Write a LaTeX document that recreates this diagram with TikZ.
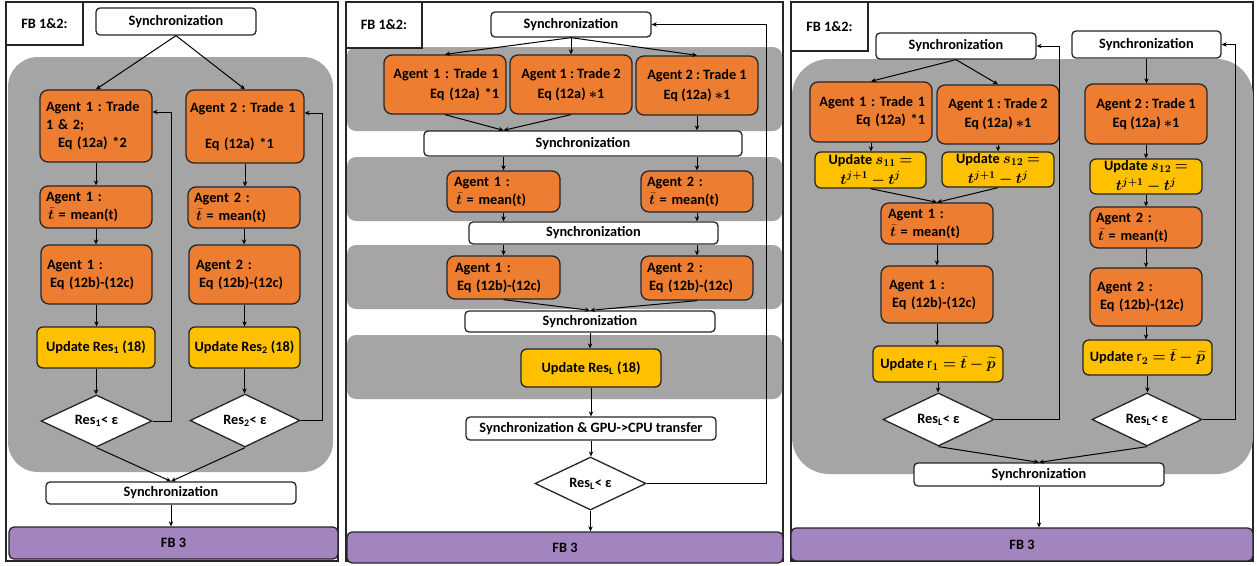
\RequirePackage{fix-cm}
\documentclass[tikz,border=0pt]{standalone}
\usepackage{fontspec}
\setmainfont{Carlito}
\usepackage{amsmath,bm}
\usetikzlibrary{arrows.meta,shapes.geometric}
\definecolor{boxorange}{RGB}{237,125,49}
\definecolor{boxyellow}{RGB}{255,192,0}
\definecolor{zonegray}{RGB}{165,165,165}
\definecolor{fbpurple}{RGB}{162,132,190}
% larger math for the update formulas
\newcommand{\fml}[1]{{\fontsize{15}{18}\selectfont$\bm{#1}$}}

\begin{document}
\frenchspacing
\begin{tikzpicture}[x=1pt,y=-1pt,
  base/.style={draw=black!85, line width=1.3pt, inner sep=0pt,
    font=\fontsize{14.3}{18}\selectfont\bfseries},
  wh/.style n args={2}{minimum width=#1pt, minimum height=#2pt},
  sync/.style={base, fill=white, rounded corners=4pt},
  agent/.style={base, fill=boxorange, rounded corners=8pt},
  upd/.style={base, fill=boxyellow, rounded corners=6pt},
  cond/.style={base, fill=white, diamond, shape aspect=2},
  fbthree/.style={base, fill=fbpurple, rounded corners=5pt},
  tag/.style={base, fill=white},
  lft/.style={align=left, text width=#1pt},
  rgt/.style={align=right, text width=#1pt},
  ctr/.style={align=center},
  link/.style={line width=1pt, -{Stealth[length=5pt,width=4.5pt]}},
  zone/.style={fill=zonegray, draw=none},
  frame/.style={draw=black!85, line width=1.3pt},
]
\useasboundingbox (0,0) rectangle (1257,565);
\fill[white] (0,0) rectangle (1257,565);

% ---------- panel frames and shaded zones ----------
\draw[frame] (6,2) rectangle (338,561);
\draw[frame] (346,2) rectangle (783,561);
\draw[frame] (791,2) rectangle (1253,561);

\fill[zone, rounded corners=30pt] (8,57) rectangle (333,472);
\fill[zone, rounded corners=9pt] (347,47) rectangle (782,131);
\fill[zone, rounded corners=9pt] (347,157) rectangle (782,221);
\fill[zone, rounded corners=9pt] (347,245) rectangle (782,309);
\fill[zone, rounded corners=9pt] (347,335) rectangle (782,399);
\fill[zone, rounded corners=37pt] (792,59) rectangle (1253,474);

% ---------- panel 1 ----------
\node[tag, wh={77}{43}] (fb1) at (44.5,23.5) {FB 1\&2:};
\node[sync, wh={160}{27}] (s1a) at (176,21.5) {Synchronization};
\node[agent, wh={112}{72}, lft=100] (a1t) at (96,126)
  {Agent 1 : Trade\\1 \& 2;\\\hspace*{12pt}Eq (12a) *2};
\node[agent, wh={118}{73}, lft=110] (a2t) at (245,126.5)
  {Agent 2 : Trade 1\\[18pt]\hspace*{15pt}Eq (12a) *1};
\node[agent, wh={112}{42}, lft=100] (m1) at (96,207)
  {Agent 1 :\\\hspace*{2pt}$\bm{\bar{t}}$ = mean(t)};
\node[agent, wh={112}{41}, lft=100] (m2) at (244,207.5)
  {Agent 2 :\\\hspace*{2pt}$\bm{\bar{t}}$ = mean(t)};
\node[agent, wh={111}{59}, lft=99] (e1) at (96.5,274.5)
  {Agent 1 :\\\hspace*{3pt}Eq (12b)-(12c)};
\node[agent, wh={111}{59}, lft=97] (e2) at (244.5,274.5)
  {Agent 2 :\\\hspace*{3pt}Eq (12b)-(12c)};
\node[upd, wh={118}{41}] (u1) at (96,347.5) {Update Res\textsubscript{1} (18)};
\node[upd, wh={111}{41}] (u2) at (244.5,347.5) {Update Res\textsubscript{2} (18)};
\node[cond, wh={111}{52}] (d1) at (96.5,421) {Res\textsubscript{1}< ε};
\node[cond, wh={110}{53}] (d2) at (245,420.5) {Res\textsubscript{2}< ε};
\node[sync, wh={250}{22}] (s1b) at (171,493) {Synchronization};
\node[fbthree, wh={329}{32}] (fb3a) at (173.5,543) {FB 3};

\draw[link] (s1a.south) -- (a1t.north);
\draw[link] (s1a.south) -- (a2t.north);
\draw[link] (a1t.south) -- (a1t.south |- m1.north);
\draw[link] (m1.south) -- (m1.south |- e1.north);
\draw[link] (e1.south) -- (e1.south |- u1.north);
\draw[link] (u1.south) -- (u1.south |- d1.north);
\draw[link] (a2t.south) -- (a2t.south |- m2.north);
\draw[link] (m2.south) -- (m2.south |- e2.north);
\draw[link] (e2.south) -- (e2.south |- u2.north);
\draw[link] (u2.south) -- (u2.south |- d2.north);
\draw[link] (d1.east) -- ++(19,0) |- ([yshift=14pt]a1t.east);
\draw[link] (d2.east) -- ++(22,0) |- ([yshift=13.5pt]a2t.east);
\draw[link] (d1.south) -- (s1b.north);
\draw[link] (d2.south) -- (s1b.north);
\draw[link] (s1b.south) -- (s1b.south |- fb3a.north);

% ---------- panel 2 ----------
\node[tag, wh={76}{46}] (fb2) at (384,25) {FB 1\&2:};
\node[sync, wh={160}{25}] (s2a) at (571,24.5) {Synchronization};
\node[agent, wh={122}{59}, rgt=108] (t21) at (445,84.5)
  {Agent 1 : Trade 1\\[2pt]Eq (12a) *1};
\node[agent, wh={122}{59}, ctr] (t22) at (571,84.5)
  {Agent 1 : Trade 2\\[2pt]Eq (12a) $\bm{\ast}$1};
\node[agent, wh={122}{59}, ctr] (t23) at (697,85.5)
  {Agent 2 : Trade 1\\[2pt]Eq (12a) $\bm{\ast}$1};
\node[sync, wh={318}{25}] (s2b) at (583,143.5) {Synchronization};
\node[agent, wh={113}{41}, lft=99] (m21) at (503.5,191.5)
  {Agent 1 :\\\hspace*{2pt}$\bm{\bar{t}}$ = mean(t)};
\node[agent, wh={112}{41}, lft=100] (m22) at (697,191.5)
  {Agent 2 :\\\hspace*{2pt}$\bm{\bar{t}}$ = mean(t)};
\node[sync, wh={249}{22}] (s2c) at (593.5,233) {Synchronization};
\node[agent, wh={113}{43}, lft=97] (e21) at (503.5,277.5)
  {Agent 1 :\\\hspace*{2pt}Eq (12b)-(12c)};
\node[agent, wh={112}{44}, lft=100] (e22) at (697,278)
  {Agent 2 :\\\hspace*{2pt}Eq (12b)-(12c)};
\node[sync, wh={250}{21}] (s2d) at (590,321.5) {Synchronization};
\node[upd, wh={140}{38}] (u2L) at (591,368) {Update Res\textsubscript{L} (18)};
\node[sync, wh={250}{23}] (s2e) at (591,428.5) {Synchronization \& GPU->CPU transfer};
\node[cond, wh={111}{53}] (d2L) at (590.5,483.5) {Res\textsubscript{L}< ε};
\node[fbthree, wh={436}{31}] (fb3b) at (565,547.5) {FB 3};

\draw[link] (s2a.south) -- (t21.north);
\draw[link] (s2a.south) -- (t22.north);
\draw[link] (s2a.south) -- (t23.north);
\coordinate (j21) at (m21 |- s2b.north);
\draw[link] (t21.south) -- (j21);
\draw[link] (t22.south) -- (j21);
\draw[link] (t23.south) -- (t23.south |- s2b.north);
\draw[link] (m21 |- s2b.south) -- (m21.north);
\draw[link] (m22 |- s2b.south) -- (m22.north);
\draw[link] (m21.south) -- (m21 |- s2c.north);
\draw[link] (m22.south) -- (m22 |- s2c.north);
\draw[link] (e21 |- s2c.south) -- (e21.north);
\draw[link] (e22 |- s2c.south) -- (e22.north);
\draw[link] (e21.south) -- (s2d.north);
\draw[link] (e22.south) -- (s2d.north);
\draw[link] (s2d.south) -- (s2d.south |- u2L.north);
\draw[link] (u2L.south) -- (u2L.south |- s2e.north);
\draw[link] (s2e.south) -- (s2e.south |- d2L.north);
\draw[link] (d2L.south) -- (d2L.south |- fb3b.north);
\draw[link] (d2L.east) -- ++(120,0) |- (s2a.east);

% ---------- panel 3 ----------
\node[tag, wh={77}{49}] (fb3t) at (829.5,26.5) {FB 1\&2:};
\node[sync, wh={160}{26}] (s3L) at (956,46) {Synchronization};
\node[sync, wh={149}{27}] (s3R) at (1146.5,44.5) {Synchronization};
\node[agent, wh={122}{60}, rgt=108] (t31) at (871,112)
  {Agent 1 : Trade 1\\Eq (12a) *1};
\node[agent, wh={122}{59}, ctr] (t32) at (998,114.5)
  {Agent 1 : Trade 2\\[1pt]Eq (12a) $\bm{\ast}$1};
\node[agent, wh={122}{60}, ctr] (t33) at (1146,114)
  {Agent 2 : Trade 1\\[1pt]Eq (12a) $\bm{\ast}$1};
\node[upd, wh={111}{36}, ctr] (p31) at (870.5,170)
  {Update \fml{s_{11}} \fml{=}\\[2pt]\fml{t^{j+1}-t^{j}}};
\node[upd, wh={112}{35}, ctr] (p32) at (998,169.5)
  {Update \fml{s_{12}} \fml{=}\\[2pt]\fml{t^{j+1}-t^{j}}};
\node[upd, wh={112}{35}, ctr] (p33) at (1146,176.5)
  {Update \fml{s_{12}} \fml{=}\\[2pt]\fml{t^{j+1}-t^{j}}};
\node[agent, wh={112}{41}, lft=98] (m31) at (937,223.5)
  {Agent 1 :\\\hspace*{2pt}$\bm{\bar{t}}$ = mean(t)};
\node[agent, wh={112}{41}, lft=100] (m32) at (1146,227.5)
  {Agent 2 :\\\hspace*{2pt}$\bm{\bar{t}}$ = mean(t)};
\node[agent, wh={112}{57}, lft=96] (e31) at (937,294.5)
  {Agent 1 :\\\hspace*{3pt}Eq (12b)-(12c)};
\node[agent, wh={112}{58}, lft=98] (e32) at (1146,297)
  {Agent 2 :\\\hspace*{3pt}Eq (12b)-(12c)};
\node[upd, wh={130}{36}] (r31) at (938,364)
  {Update {\fontsize{15}{18}\selectfont$\mathrm{r}_{\bm{1}}\bm{=\bar{t}-\widetilde{p}}$}};
\node[upd, wh={129}{35}] (r32) at (1147.5,357.5)
  {Update {\fontsize{15}{18}\selectfont$\mathrm{r}_{\bm{2}}\bm{=\bar{t}-\widetilde{p}}$}};
\node[cond, wh={111}{53}] (d31) at (938.5,419.5) {Res\textsubscript{L}< ε};
\node[cond, wh={110}{53}] (d32) at (1147,419.5) {Res\textsubscript{L}< ε};
\node[sync, wh={250}{23}] (s3f) at (1039,474.5) {Synchronization};
\node[fbthree, wh={462}{33}] (fb3c) at (1022,544.5) {FB 3};

\draw[link] (s3L.south) -- (t31.north);
\draw[link] (s3L.south) -- (t32.north);
\draw[link] (s3R.south) -- (s3R.south |- t33.north);
\draw[link] (t31.south) -- (t31.south |- p31.north);
\draw[link] (t32.south) -- (t32.south |- p32.north);
\draw[link] (t33.south) -- (t33.south |- p33.north);
\draw[link] (p31.south) -- (m31.north);
\draw[link] (p32.south) -- (m31.north);
\draw[link] (p33.south) -- (p33.south |- m32.north);
\draw[link] (m31.south) -- (m31.south |- e31.north);
\draw[link] (m32.south) -- (m32.south |- e32.north);
\draw[link] (e31.south) -- (e31.south |- r31.north);
\draw[link] (e32.south) -- (e32.south |- r32.north);
\draw[link] (r31.south) -- (r31.south |- d31.north);
\draw[link] (r32.south) -- (r32.south |- d32.north);
\draw[link] (d31.east) -- ++(65,0) |- (s3L.east);
\draw[link] (d32.east) -- ++(33,0) |- (s3R.east);
\draw[link] (d31.south) -- (s3f.north);
\draw[link] (d32.south) -- (s3f.north);
\draw[link] (s3f.south) -- (s3f.south |- fb3c.north);
\end{tikzpicture}
\end{document}
